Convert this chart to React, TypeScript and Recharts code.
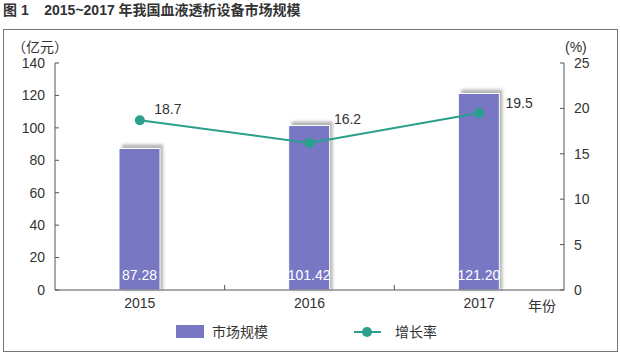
import { ComposedChart, Bar, Line, XAxis, YAxis, LabelList } from "recharts";

const years = ["2015", "2016", "2017"];
const marketSize = [87.28, 101.42, 121.2];
const growthRate = [18.7, 16.2, 19.5];
const leftTicks = [0, 20, 40, 60, 80, 100, 120, 140];
const rightTicks = [0, 5, 10, 15, 20, 25];

// label offsets for the growth-rate values (dx, dy from the dot)
const rateLabelOffsets = [
  [28, -11],
  [38, -24],
  [40, -10],
];

const data = years.map((y, i) => ({
  year: y,
  size: marketSize[i],
  rate: growthRate[i],
}));

const BAR = "#7777c4";
const LINE = "#2a9f8b";
const TEXT = "#333";
const FONT = "'Liberation Sans', Arial, 'Noto Sans CJK SC', sans-serif";

const BarWithShadow = (props: any) => {
  const { x, y, width, height } = props;
  return (
    <g>
      <rect x={x + 3} y={y - 4} width={width} height={height + 4} fill="#b5b5b5" filter="url(#blur)" />
      <rect x={x} y={y} width={width} height={height} fill={BAR} stroke="#fff" strokeWidth={1} />
    </g>
  );
};

const LeftTick = (props: any) => {
  const { x, y, payload } = props;
  const ax = x + 10;
  return (
    <g>
      <line x1={ax} x2={ax + 4} y1={y} y2={y} stroke="#555" />
      <text x={x} y={y} dy="0.35em" textAnchor="end" fontSize={14} fill={TEXT} fontFamily={FONT}>
        {payload.value}
      </text>
    </g>
  );
};

const RightTick = (props: any) => {
  const { x, y, payload } = props;
  const ax = x - 10;
  return (
    <g>
      <line x1={ax - 4} x2={ax} y1={y} y2={y} stroke="#555" />
      <text x={x} y={y} dy="0.35em" textAnchor="start" fontSize={14} fill={TEXT} fontFamily={FONT}>
        {payload.value}
      </text>
    </g>
  );
};

const BottomTick = (props: any) => {
  const { x, y, payload } = props;
  const ay = y - 8;
  const half = payload.offset || 0;
  return (
    <g>
      {props.index < years.length - 1 && (
        <line x1={x + half} x2={x + half} y1={ay} y2={ay - 5} stroke="#555" />
      )}
      <text x={x} y={y} dy="0.71em" textAnchor="middle" fontSize={14} fill={TEXT} fontFamily={FONT}>
        {payload.value}
      </text>
    </g>
  );
};

const SizeLabel = (props: any) => {
  const { x, y, width, height, value } = props;
  return (
    <text x={x + width / 2} y={y + height - 10} textAnchor="middle" fontSize={14} fill="#fff" fontFamily={FONT}>
      {value.toFixed(2)}
    </text>
  );
};

const RateLabel = (props: any) => {
  const { x, y, value, index } = props;
  const [dx, dy] = rateLabelOffsets[index];
  return (
    <text x={x + dx} y={y + dy} dy="0.35em" textAnchor="middle" fontSize={14} fill={TEXT} fontFamily={FONT}>
      {value}
    </text>
  );
};

export default function App() {
  return (
    <div style={{ position: "absolute", left: 0, top: 0, width: 620, height: 359, background: "#fff", fontFamily: FONT, color: TEXT, lineHeight: "14px" }}>
      <div style={{ position: "absolute", left: 3, top: 3, fontSize: 14, fontWeight: "bold", color: "#333", whiteSpace: "nowrap" }}>
        图 1&nbsp;&nbsp;&nbsp;&nbsp;2015~2017 年我国血液透析设备市场规模
      </div>
      <div style={{ position: "absolute", left: 3, top: 29, width: 613, height: 321, border: "1px solid #777" }} />
      <div style={{ position: "absolute", left: 12, top: 40, fontSize: 14 }}>（亿元）</div>
      <div style={{ position: "absolute", left: 565, top: 40, fontSize: 14 }}>(%)</div>
      <div style={{ position: "absolute", left: 528, top: 299, fontSize: 14 }}>年份</div>
      <div style={{ position: "absolute", left: 0, top: 0 }}>
        <ComposedChart width={620} height={359} data={data} margin={{ top: 63, right: 26, bottom: 39, left: 0 }}>
          <defs>
            <filter id="blur" x="-20%" y="-20%" width="140%" height="140%">
              <feGaussianBlur stdDeviation="1.5" />
            </filter>
          </defs>
          <XAxis
            dataKey="year"
            height={30}
            tickSize={0}
            tickMargin={8}
            tick={<BottomTick />}
            axisLine={{ stroke: "#555" }}
            tickLine={false}
          />
          <YAxis
            yAxisId="left"
            width={55}
            domain={[0, 140]}
            ticks={leftTicks}
            interval={0}
            tickSize={4}
            tickMargin={6}
            tick={<LeftTick />}
            tickLine={false}
            axisLine={{ stroke: "#555" }}
          />
          <YAxis
            yAxisId="right"
            orientation="right"
            width={30}
            domain={[0, 25]}
            ticks={rightTicks}
            interval={0}
            tickSize={4}
            tickMargin={6}
            tick={<RightTick />}
            tickLine={false}
            axisLine={{ stroke: "#555" }}
          />
          <Bar yAxisId="left" dataKey="size" barSize={41} shape={<BarWithShadow />} isAnimationActive={false}>
            <LabelList dataKey="size" content={<SizeLabel />} />
          </Bar>
          <Line
            yAxisId="right"
            dataKey="rate"
            stroke={LINE}
            strokeWidth={2}
            dot={{ r: 5, fill: LINE, stroke: LINE, strokeWidth: 0 }}
            isAnimationActive={false}
          >
            <LabelList dataKey="rate" content={<RateLabel />} />
          </Line>
        </ComposedChart>
      </div>
      <div style={{ position: "absolute", left: 176, top: 325, width: 28, height: 13, background: BAR }} />
      <div style={{ position: "absolute", left: 212, top: 325, fontSize: 14 }}>市场规模</div>
      <svg style={{ position: "absolute", left: 350, top: 324 }} width={36} height={16}>
        <line x1={4} x2={31} y1={8} y2={8} stroke={LINE} strokeWidth={2} />
        <circle cx={17} cy={8} r={5} fill={LINE} />
      </svg>
      <div style={{ position: "absolute", left: 395, top: 325, fontSize: 14 }}>增长率</div>
    </div>
  );
}
